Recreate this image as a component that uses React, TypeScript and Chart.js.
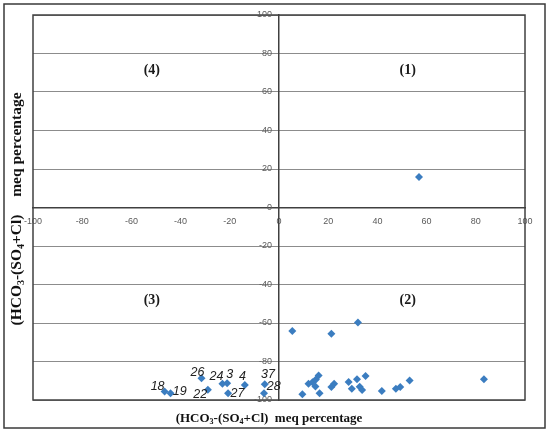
import { useEffect, useRef } from "react";
import { Chart, registerables } from "chart.js";

Chart.register(...registerables);

// ---------- data ----------
const AXIS_MIN = -100;
const AXIS_MAX = 100;
const AXIS_STEP = 20;

// samples with HCO3 excess (right half)
const rightX = [56.9, 5.4, 21.3, 32.1, 83.3, 9.5, 12.0, 13.6, 14.8, 15.0, 16.1, 16.5, 21.3, 22.4, 28.3, 29.6, 31.7, 32.8, 33.8, 35.2, 41.8, 47.5, 49.3, 53.1];
const rightY = [15.8, -64.1, -65.6, -59.8, -89.2, -97.0, -91.6, -90.8, -93.0, -89.4, -87.3, -96.5, -93.3, -91.6, -90.6, -94.2, -89.2, -93.1, -94.8, -87.5, -95.3, -94.2, -93.3, -89.9];

// labelled samples (left half)
const leftNames = ["18", "19", "26", "22", "24", "3", "27", "4", "37", "28"];
const leftX = [-46.5, -44.1, -31.5, -28.9, -23.0, -21.1, -20.7, -13.9, -5.8, -6.1];
const leftY = [-95.6, -96.5, -88.7, -94.7, -91.6, -91.3, -96.5, -92.2, -91.8, -96.5];

// quadrant captions
const quadrantNames = ["(1)", "(2)", "(3)", "(4)"];
const quadrantX = [52.3, 52.3, -51.7, -51.7];
const quadrantY = [71, -48, -48, 71];

// axis title pieces (text, subscript?)
const titleParts: [string, boolean][] = [
  ["(HCO", false],
  ["3", true],
  ["-(SO", false],
  ["4", true],
  ["+Cl)  meq percentage", false],
];

// ---------- styles ----------
const POINT_COLOR = "#3b7dc0";
const TICK_COLOR = "#5a5a5a";
const LABEL_OFFSETS: [number, number][] = [
  [-7, -5], [9.3, -1.6], [-4, -5.6], [-7.6, 4.3], [-6, -7.3],
  [2.7, -8.3], [9.4, 0.7], [-2.3, -8.3], [3.3, -9.3], [9.7, -6.6],
];
const SERIF = "'Liberation Serif', 'Times New Roman', serif";
const SANS = "'Liberation Sans', Arial, sans-serif";

function drawTitle(ctx: CanvasRenderingContext2D, cx: number, cy: number, size: number, gap: number) {
  const main = `bold ${size}px ${SERIF}`;
  const sub = `bold ${Math.round(size * 0.62)}px ${SERIF}`;
  let total = 0;
  const widths = titleParts.map(([t, s]) => {
    ctx.font = s ? sub : main;
    const w = ctx.measureText(t).width + (t.indexOf("  ") >= 0 ? gap : 0);
    total += w;
    return w;
  });
  let x = cx - total / 2;
  ctx.textBaseline = "alphabetic";
  ctx.textAlign = "left";
  titleParts.forEach(([t, s], i) => {
    ctx.font = s ? sub : main;
    if (t.indexOf("  ") >= 0) {
      const [a, b] = t.split("  ");
      ctx.fillText(a, x, cy);
      const wa = ctx.measureText(a + "  ").width + gap;
      ctx.fillText(b, x + wa, cy);
    } else {
      ctx.fillText(t, x, cy + (s ? size * 0.18 : 0));
    }
    x += widths[i];
  });
}

const decorPlugin = {
  id: "decor",
  beforeDraw(chart: any) {
    const ctx = chart.ctx as CanvasRenderingContext2D;
    ctx.save();
    ctx.fillStyle = "#ffffff";
    ctx.fillRect(0, 0, chart.width, chart.height);
    ctx.strokeStyle = "#3a3a3a";
    ctx.lineWidth = 1.5;
    ctx.strokeRect(4, 4, 541, 424);
    ctx.restore();
  },
  beforeDatasetsDraw(chart: any) {
    const ctx = chart.ctx as CanvasRenderingContext2D;
    const a = chart.chartArea;
    const xs = chart.scales.x;
    const ys = chart.scales.y;
    ctx.save();
    ctx.strokeStyle = "#404040";
    ctx.lineWidth = 1.5;
    ctx.strokeRect(a.left, a.top, a.right - a.left, a.bottom - a.top);
    // y tick labels beside the central axis
    ctx.font = `9px ${SANS}`;
    ctx.fillStyle = TICK_COLOR;
    ctx.textAlign = "right";
    ctx.textBaseline = "middle";
    const ax = xs.getPixelForValue(0);
    ys.ticks.forEach((t: any) => {
      ctx.fillText(String(t.value), ax - 7, ys.getPixelForValue(t.value));
    });
    ctx.restore();
  },
  afterDraw(chart: any) {
    const ctx = chart.ctx as CanvasRenderingContext2D;
    const xs = chart.scales.x;
    const ys = chart.scales.y;
    ctx.save();
    // quadrant captions
    ctx.fillStyle = "#1a1a1a";
    ctx.font = `bold 14px ${SERIF}`;
    ctx.textAlign = "center";
    ctx.textBaseline = "middle";
    quadrantNames.forEach((q, i) => {
      ctx.fillText(q, xs.getPixelForValue(quadrantX[i]), ys.getPixelForValue(quadrantY[i]));
    });
    // sample numbers
    ctx.font = `italic 12.5px ${SANS}`;
    ctx.fillStyle = "#222222";
    leftNames.forEach((n, i) => {
      const px = xs.getPixelForValue(leftX[i]) + LABEL_OFFSETS[i][0];
      const py = ys.getPixelForValue(leftY[i]) + LABEL_OFFSETS[i][1];
      ctx.fillText(n, px, py);
    });
    // axis titles
    ctx.fillStyle = "#111111";
    drawTitle(ctx, 269, 421.5, 13, 0);
    ctx.translate(21, 209);
    ctx.rotate(-Math.PI / 2);
    drawTitle(ctx, 0, 0, 15.5, 10);
    ctx.restore();
  },
};

export default function App() {
  const ref = useRef<HTMLCanvasElement | null>(null);

  useEffect(() => {
    const canvas = ref.current;
    if (!canvas) return;
    const tickFont = { family: SANS, size: 9 };
    const chart = new Chart(canvas, {
      type: "scatter",
      data: {
        datasets: [
          {
            data: rightX.map((x, i) => ({ x, y: rightY[i] })),
            backgroundColor: POINT_COLOR,
            borderColor: POINT_COLOR,
            borderWidth: 0,
            pointStyle: "rectRot",
            pointRadius: 4,
          },
          {
            data: leftX.map((x, i) => ({ x, y: leftY[i] })),
            backgroundColor: POINT_COLOR,
            borderColor: POINT_COLOR,
            borderWidth: 0,
            pointStyle: "rectRot",
            pointRadius: 4,
          },
        ],
      },
      options: {
        responsive: false,
        animation: false,
        events: [],
        layout: { autoPadding: false, padding: { left: 33, right: 25, top: 15, bottom: 34 } },
        plugins: { legend: { display: false }, tooltip: { enabled: false }, title: { display: false } },
        scales: {
          x: {
            type: "linear",
            min: AXIS_MIN,
            max: AXIS_MAX,
            position: { y: 0 } as any,
            ticks: { stepSize: AXIS_STEP, font: tickFont, color: TICK_COLOR, padding: 9, maxRotation: 0 },
            grid: { display: true, color: "rgba(0,0,0,0)", drawTicks: false },
            border: { display: true, color: "#404040", width: 1.5 },
            afterFit: (s: any) => { s.height = 0; },
          },
          y: {
            type: "linear",
            min: AXIS_MIN,
            max: AXIS_MAX,
            position: { x: 0 } as any,
            ticks: { stepSize: AXIS_STEP, display: false },
            grid: { display: true, color: "#8c8c8c", lineWidth: 1, drawTicks: false },
            border: { display: true, color: "#404040", width: 1.5 },
            afterFit: (s: any) => { s.width = 0; },
          },
        },
      },
      plugins: [decorPlugin],
    });
    return () => chart.destroy();
  }, []);

  return (
    <div style={{ position: "absolute", left: 0, top: 0, width: 550, height: 434 }}>
      <canvas ref={ref} width={550} height={434} />
    </div>
  );
}
